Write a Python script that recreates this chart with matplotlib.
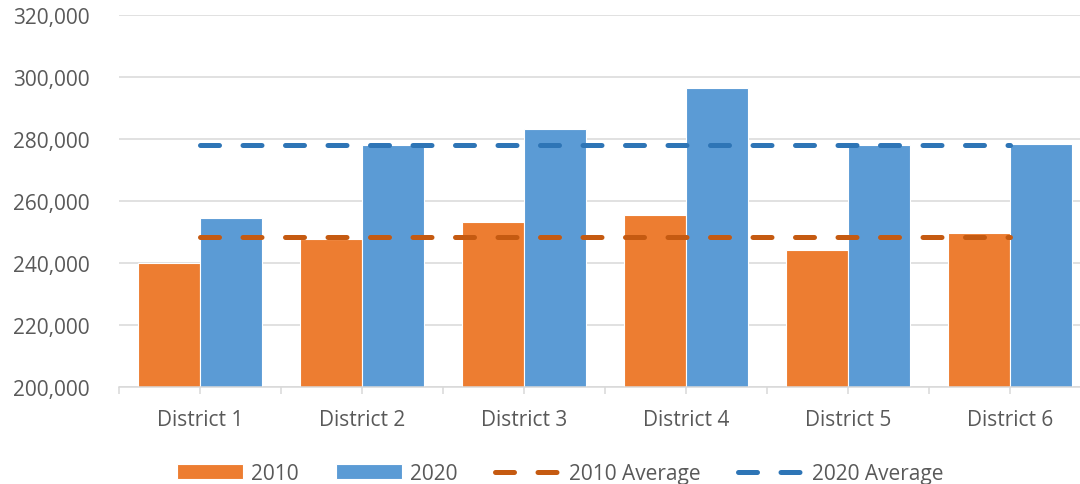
import numpy as np
import matplotlib.pyplot as plt
from matplotlib.ticker import FuncFormatter, MultipleLocator

districts = ['District 1', 'District 2', 'District 3', 'District 4', 'District 5', 'District 6']
pop_2010 = [239900, 247600, 253000, 255400, 244200, 249700]
pop_2020 = [254400, 278000, 283200, 296500, 278000, 278300]

c2010 = '#ED7D31'
c2020 = '#5B9BD5'
c2010_avg = '#C55A11'
c2020_avg = '#2E75B6'
grey = '#595959'
grid = '#D9D9D9'


def main():
	plt.rcParams['font.family'] = ['Open Sans', 'DejaVu Sans']
	fig = plt.figure(figsize=(10.8, 4.85), dpi=100)
	ax = fig.add_axes([119 / 1080, 0.2006, 972 / 1080, 0.767])

	x = np.arange(len(districts))
	w = 0.385
	b1 = ax.bar(x - w / 2, pop_2010, w, color=c2010, edgecolor='white', linewidth=0.8, label='2010', zorder=2)
	b2 = ax.bar(x + w / 2, pop_2020, w, color=c2020, edgecolor='white', linewidth=0.8, label='2020', zorder=2)

	avg10 = np.mean(pop_2010)
	avg20 = np.mean(pop_2020)
	dash = (0, (3.8, 4.7))
	l1, = ax.plot([x[0], x[-1]], [avg10, avg10], color=c2010_avg, lw=3.6, ls=dash,
		dash_capstyle='round', label='2010 Average', zorder=3)
	l2, = ax.plot([x[0], x[-1]], [avg20, avg20], color=c2020_avg, lw=3.6, ls=dash,
		dash_capstyle='round', label='2020 Average', zorder=3)

	ax.set_xlim(-0.5, len(districts) - 0.5)
	ax.set_ylim(200000, 320000)
	ax.yaxis.set_major_locator(MultipleLocator(20000))
	ax.yaxis.set_major_formatter(FuncFormatter(lambda v, p: f'{int(v):,}'))
	ax.grid(axis='y', color=grid, lw=1.1, zorder=0)
	ax.set_axisbelow(True)

	ax.set_xticks(x)
	ax.set_xticklabels(districts)
	ax.xaxis.set_minor_locator(MultipleLocator(0.5))
	ax.tick_params(axis='x', which='both', length=5, width=1.1, color=grid,
		labelsize=15, labelcolor=grey, pad=11)
	ax.tick_params(axis='y', length=0, labelsize=15, labelcolor=grey, pad=21)

	for s in ['top', 'right', 'left']:
		ax.spines[s].set_visible(False)
	ax.spines['bottom'].set_color(grid)
	ax.spines['bottom'].set_linewidth(1.1)

	fig.legend(handles=[b1, b2, l1, l2], loc='center', bbox_to_anchor=(0.5185, 0.022),
		ncol=4, frameon=False, fontsize=15, labelcolor=grey, handlelength=3.2,
		handletextpad=0.35, columnspacing=1.8)

	fig.savefig('out.png', dpi=100)


if __name__ == "__main__":
	main()
